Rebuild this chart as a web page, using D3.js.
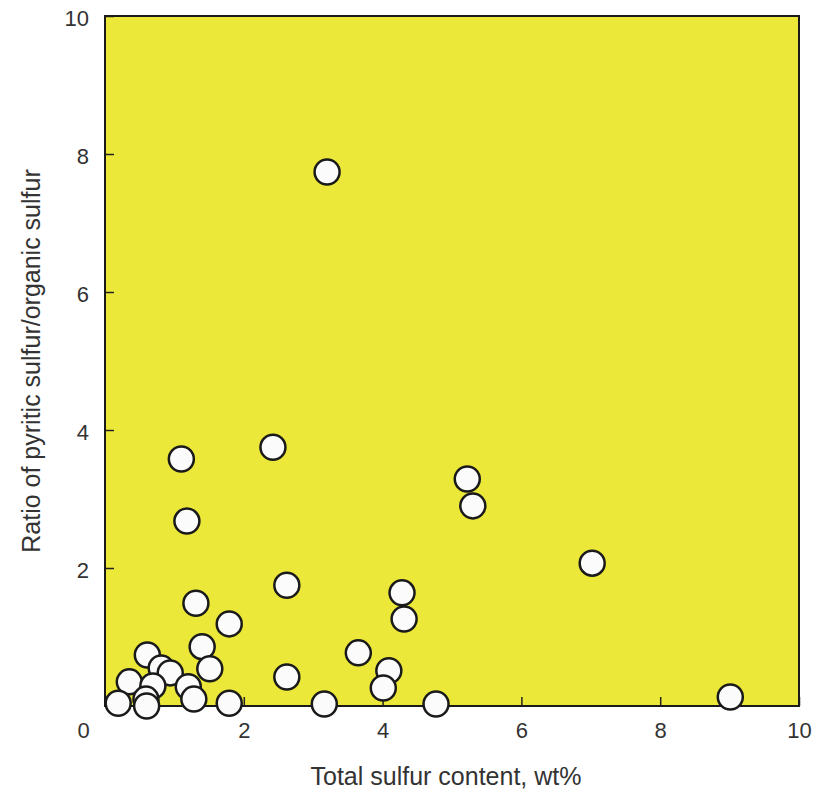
<!DOCTYPE html>
<html>
<head>
<meta charset="utf-8">
<script src="https://cdn.jsdelivr.net/npm/d3@7"></script>
<style>
  body { margin: 0; background: #fff; }
  text { font-family: "Liberation Sans", Arial, sans-serif; fill: #333; }
</style>
</head>
<body>
<div id="chart"></div>
<script>
// total sulfur (wt%) vs pyritic/organic ratio
var totalSulfur = [3.20, 1.10, 1.18, 2.42, 5.22, 5.30, 7.02, 2.62, 4.28, 4.31, 1.31,
                   1.79, 1.40, 3.65, 0.61, 0.81, 0.94, 1.51, 2.62, 4.09, 0.35, 0.69,
                   1.20, 4.01, 1.28, 0.59, 0.60, 0.19, 1.79, 3.16, 4.77, 9.01];
var ratio = [7.74, 3.58, 2.68, 3.75, 3.29, 2.90, 2.07, 1.75, 1.64, 1.26, 1.49,
             1.19, 0.86, 0.77, 0.74, 0.55, 0.48, 0.54, 0.42, 0.51, 0.35, 0.29,
             0.28, 0.26, 0.10, 0.10, 0.00, 0.04, 0.04, 0.03, 0.03, 0.13];
var xTicks = [0, 2, 4, 6, 8, 10];
var yTicks = [2, 4, 6, 8, 10];

var w = 814, h = 789;
var margin = {top: 16, right: 15, bottom: 83, left: 105};
var pw = w - margin.left - margin.right;
var ph = h - margin.top - margin.bottom;

var svg = d3.select("#chart").append("svg")
  .attr("width", w)
  .attr("height", h);

var g = svg.append("g")
  .attr("transform", "translate(" + margin.left + "," + margin.top + ")");

var x = d3.scaleLinear().domain([0, 10]).range([0, pw]);
var y = d3.scaleLinear().domain([0, 10]).range([ph, 0]);

g.append("rect")
  .attr("width", pw)
  .attr("height", ph)
  .attr("fill", "#ece839");

// ticks point inward
var xAxis = g.append("g")
  .attr("transform", "translate(0," + ph + ")")
  .call(d3.axisBottom(x).tickValues(xTicks).tickSize(-9).tickPadding(20));
var yAxis = g.append("g")
  .call(d3.axisLeft(y).tickValues(yTicks).tickSize(-9).tickPadding(16));

[xAxis, yAxis].forEach(function(a) {
  a.select(".domain").remove();
  a.selectAll("line").attr("stroke", "#222").attr("stroke-width", 1.5);
  a.selectAll("text").style("font-size", "22px").attr("fill", "#333");
});
yAxis.selectAll("text").attr("dy", "0.42em");
xAxis.selectAll("text").attr("dy", "0.55em")
  .attr("dx", function(d) { return d === 0 ? -22 : 0; });

g.append("rect")
  .attr("width", pw)
  .attr("height", ph)
  .attr("fill", "none")
  .attr("stroke", "#1a1a1a")
  .attr("stroke-width", 2);

g.selectAll("circle")
  .data(totalSulfur)
  .enter()
  .append("circle")
  .attr("cx", function(d) { return x(d); })
  .attr("cy", function(d, i) { return y(ratio[i]); })
  .attr("r", 12.5)
  .attr("fill", "#fbfbfb")
  .attr("stroke", "#1a1a1a")
  .attr("stroke-width", 2.5);

svg.append("text")
  .attr("x", margin.left + pw / 2 - 6)
  .attr("y", 785)
  .attr("text-anchor", "middle")
  .style("font-size", "25px")
  .text("Total sulfur content, wt%");

svg.append("text")
  .attr("transform", "translate(40," + (margin.top + ph / 2) + ") rotate(-90)")
  .attr("text-anchor", "middle")
  .style("font-size", "25px")
  .text("Ratio of pyritic sulfur/organic sulfur");
</script>
</body>
</html>
